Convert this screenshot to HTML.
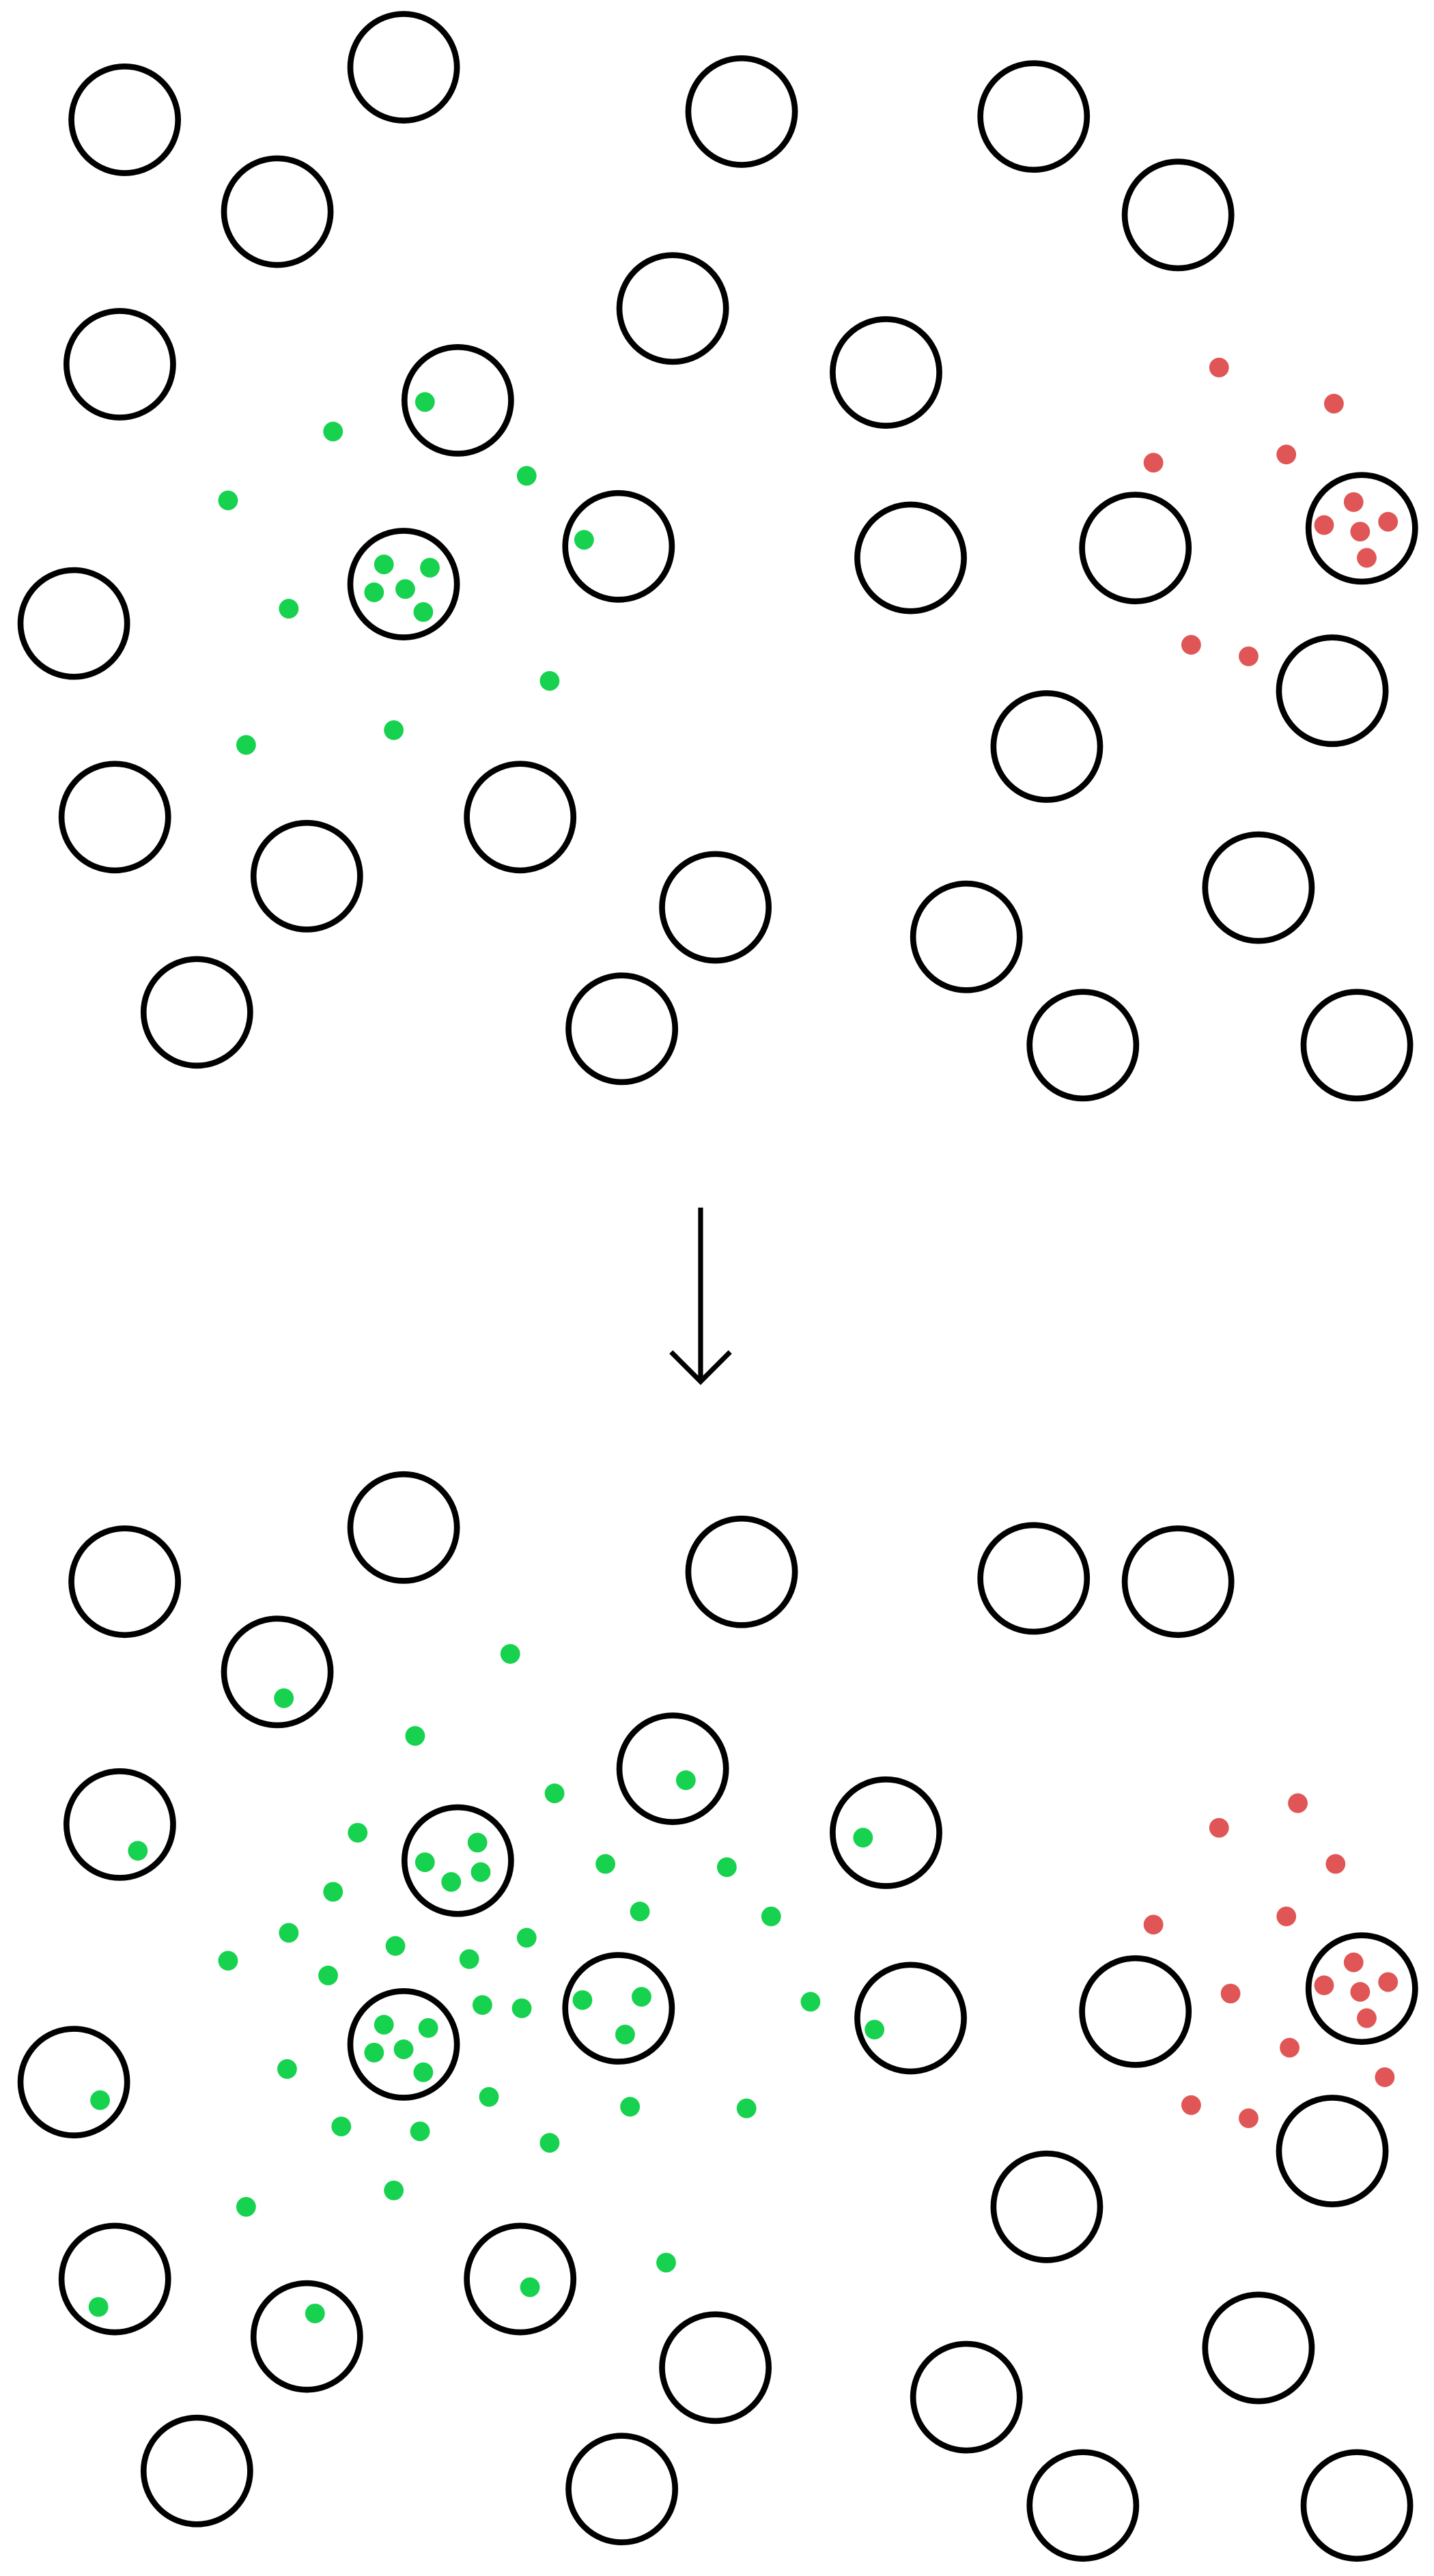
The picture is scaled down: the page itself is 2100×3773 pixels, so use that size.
<!DOCTYPE html>
<html><head><meta charset="utf-8"><style>html,body{margin:0;padding:0;background:#fff}svg{display:block}</style></head>
<body>
<svg width="2100" height="3773" viewBox="0 0 874 1570" preserveAspectRatio="none" xmlns="http://www.w3.org/2000/svg">
<g fill="none" stroke="#000" stroke-width="3.6">
<circle cx="76" cy="73" r="32.5"/><circle cx="246" cy="41" r="32.5"/><circle cx="169" cy="129" r="32.5"/><circle cx="452" cy="68" r="32.5"/><circle cx="630" cy="71" r="32.5"/><circle cx="718" cy="131" r="32.5"/><circle cx="410" cy="188" r="32.5"/><circle cx="73" cy="222" r="32.5"/><circle cx="279" cy="244" r="32.5"/><circle cx="540" cy="227" r="32.5"/><circle cx="377" cy="333" r="32.5"/><circle cx="246" cy="356" r="32.5"/><circle cx="45" cy="380" r="32.5"/><circle cx="555" cy="340" r="32.5"/><circle cx="692" cy="334" r="32.5"/><circle cx="830" cy="322" r="32.5"/><circle cx="812" cy="421" r="32.5"/><circle cx="70" cy="498" r="32.5"/><circle cx="187" cy="534" r="32.5"/><circle cx="317" cy="498" r="32.5"/><circle cx="436" cy="553" r="32.5"/><circle cx="638" cy="455" r="32.5"/><circle cx="767" cy="541" r="32.5"/><circle cx="589" cy="571" r="32.5"/><circle cx="120" cy="617" r="32.5"/><circle cx="379" cy="627" r="32.5"/><circle cx="660" cy="637" r="32.5"/><circle cx="827" cy="637" r="32.5"/>
<circle cx="76" cy="964" r="32.5"/><circle cx="246" cy="931" r="32.5"/><circle cx="169" cy="1019" r="32.5"/><circle cx="452" cy="958" r="32.5"/><circle cx="630" cy="962" r="32.5"/><circle cx="718" cy="964" r="32.5"/><circle cx="410" cy="1078" r="32.5"/><circle cx="73" cy="1112" r="32.5"/><circle cx="279" cy="1134" r="32.5"/><circle cx="540" cy="1117" r="32.5"/><circle cx="377" cy="1224" r="32.5"/><circle cx="246" cy="1246" r="32.5"/><circle cx="45" cy="1269" r="32.5"/><circle cx="555" cy="1230" r="32.5"/><circle cx="692" cy="1226" r="32.5"/><circle cx="830" cy="1212" r="32.5"/><circle cx="812" cy="1311" r="32.5"/><circle cx="70" cy="1389" r="32.5"/><circle cx="187" cy="1424" r="32.5"/><circle cx="317" cy="1389" r="32.5"/><circle cx="436" cy="1443" r="32.5"/><circle cx="638" cy="1345" r="32.5"/><circle cx="767" cy="1431" r="32.5"/><circle cx="589" cy="1461" r="32.5"/><circle cx="120" cy="1506" r="32.5"/><circle cx="379" cy="1517" r="32.5"/><circle cx="660" cy="1527" r="32.5"/><circle cx="827" cy="1527" r="32.5"/>
<path d="M427 736 L427 842 M409 824 L427 842 L445 824" stroke-width="3"/>
</g>
<g fill="#16d24e">
<circle cx="203" cy="263" r="6"/><circle cx="139" cy="305" r="6"/><circle cx="259" cy="245" r="6"/><circle cx="321" cy="290" r="6"/><circle cx="176" cy="371" r="6"/><circle cx="356" cy="329" r="6"/><circle cx="335" cy="415" r="6"/><circle cx="150" cy="454" r="6"/><circle cx="240" cy="445" r="6"/><circle cx="234" cy="344" r="6"/><circle cx="262" cy="346" r="6"/><circle cx="247" cy="359" r="6"/><circle cx="228" cy="361" r="6"/><circle cx="258" cy="373" r="6"/>
<circle cx="311" cy="1008" r="6"/><circle cx="173" cy="1035" r="6"/><circle cx="253" cy="1058" r="6"/><circle cx="418" cy="1085" r="6"/><circle cx="338" cy="1093" r="6"/><circle cx="84" cy="1128" r="6"/><circle cx="218" cy="1117" r="6"/><circle cx="259" cy="1135" r="6"/><circle cx="291" cy="1123" r="6"/><circle cx="293" cy="1141" r="6"/><circle cx="275" cy="1147" r="6"/><circle cx="203" cy="1153" r="6"/><circle cx="369" cy="1136" r="6"/><circle cx="443" cy="1138" r="6"/><circle cx="526" cy="1120" r="6"/><circle cx="390" cy="1165" r="6"/><circle cx="470" cy="1168" r="6"/><circle cx="176" cy="1178" r="6"/><circle cx="321" cy="1181" r="6"/><circle cx="241" cy="1186" r="6"/><circle cx="286" cy="1194" r="6"/><circle cx="139" cy="1195" r="6"/><circle cx="200" cy="1204" r="6"/><circle cx="294" cy="1222" r="6"/><circle cx="318" cy="1224" r="6"/><circle cx="355" cy="1219" r="6"/><circle cx="391" cy="1217" r="6"/><circle cx="381" cy="1240" r="6"/><circle cx="494" cy="1220" r="6"/><circle cx="533" cy="1237" r="6"/><circle cx="234" cy="1234" r="6"/><circle cx="261" cy="1236" r="6"/><circle cx="246" cy="1249" r="6"/><circle cx="228" cy="1251" r="6"/><circle cx="258" cy="1263" r="6"/><circle cx="175" cy="1261" r="6"/><circle cx="61" cy="1280" r="6"/><circle cx="298" cy="1278" r="6"/><circle cx="384" cy="1284" r="6"/><circle cx="455" cy="1285" r="6"/><circle cx="208" cy="1296" r="6"/><circle cx="256" cy="1299" r="6"/><circle cx="335" cy="1306" r="6"/><circle cx="240" cy="1335" r="6"/><circle cx="150" cy="1345" r="6"/><circle cx="406" cy="1379" r="6"/><circle cx="323" cy="1394" r="6"/><circle cx="192" cy="1410" r="6"/><circle cx="60" cy="1406" r="6"/>
</g>
<g fill="#e05555">
<circle cx="743" cy="224" r="6"/><circle cx="813" cy="246" r="6"/><circle cx="784" cy="277" r="6"/><circle cx="703" cy="282" r="6"/><circle cx="825" cy="306" r="6"/><circle cx="807" cy="320" r="6"/><circle cx="829" cy="324" r="6"/><circle cx="846" cy="318" r="6"/><circle cx="833" cy="340" r="6"/><circle cx="726" cy="393" r="6"/><circle cx="761" cy="400" r="6"/>
<circle cx="791" cy="1099" r="6"/><circle cx="743" cy="1114" r="6"/><circle cx="814" cy="1136" r="6"/><circle cx="784" cy="1168" r="6"/><circle cx="703" cy="1173" r="6"/><circle cx="750" cy="1215" r="6"/><circle cx="825" cy="1196" r="6"/><circle cx="807" cy="1210" r="6"/><circle cx="829" cy="1214" r="6"/><circle cx="846" cy="1208" r="6"/><circle cx="833" cy="1230" r="6"/><circle cx="786" cy="1248" r="6"/><circle cx="844" cy="1266" r="6"/><circle cx="726" cy="1283" r="6"/><circle cx="761" cy="1291" r="6"/>
</g>
</svg>
</body></html>
